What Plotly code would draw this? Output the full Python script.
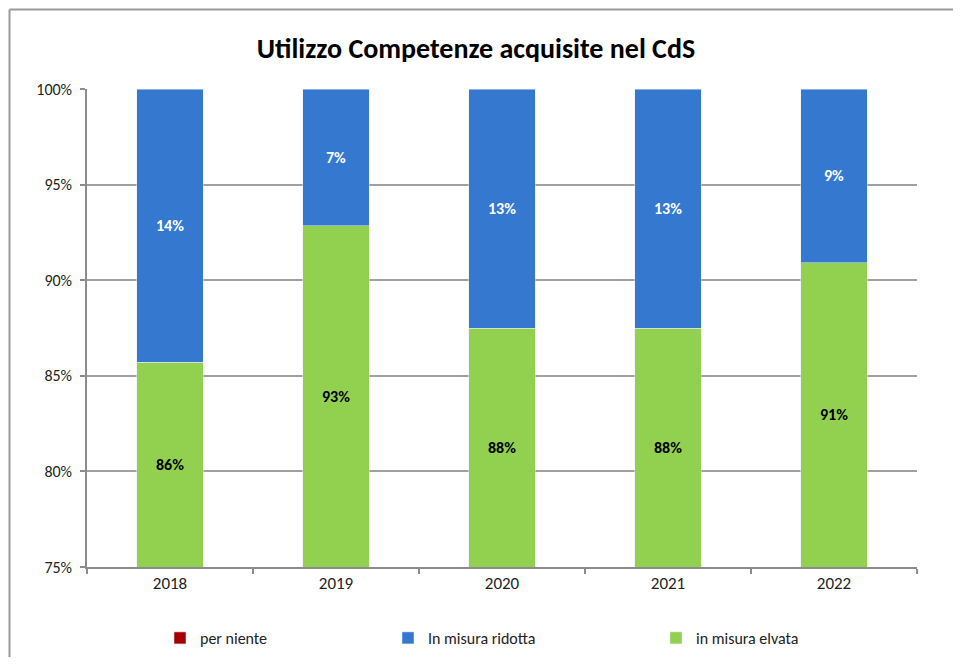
import plotly.graph_objects as go
import math

years = ["2018", "2019", "2020", "2021", "2022"]
per_niente = [0, 0, 0, 0, 0]
in_misura_elevata = [85.71, 92.86, 87.5, 87.5, 90.91]
in_misura_ridotta = [14.29, 7.14, 12.5, 12.5, 9.09]
y_ticks = [75, 80, 85, 90, 95, 100]

FONT = "Carlito, Calibri, Lato, sans-serif"
RED = "#A50000"
BLUE = "#3479CF"
GREEN = "#92D050"

# page body has an 8px margin on every side; size the figure so the page does not overflow
OFF = 8
W, H = 961 - 2 * OFF, 665 - 2 * OFF
PL, PR, PT, PB = 87 - OFF, 917 - OFF, 89 - OFF, 567 - OFF
PW, PH = PR - PL, PB - PT

def px_x(px):
    return (px - OFF - PL) / PW

def px_y(py):
    return (PB - (py - OFF)) / PH

def pct(v):
    return f"{int(math.floor(v + 0.5))}%"

fig = go.Figure()
fig.add_trace(go.Bar(x=years, y=per_niente, name="per niente", marker_color=RED,
                     legend="legend", showlegend=True))
fig.add_trace(go.Bar(x=years, y=in_misura_elevata, name="in misura elvata", marker_color=GREEN,
                     legend="legend3", showlegend=True))
fig.add_trace(go.Bar(x=years, y=in_misura_ridotta, name="In misura ridotta", marker_color=BLUE,
                     legend="legend2", showlegend=True))

ymin, ymax = y_ticks[0], y_ticks[-1]
annotations = []
for i, yr in enumerate(years):
    base = per_niente[i] + in_misura_elevata[i]
    annotations.append(dict(x=i, y=(ymin + base) / 2, text=pct(in_misura_elevata[i]),
                            showarrow=False, font=dict(family=FONT, size=16, color="black", weight="bold")))
    annotations.append(dict(x=i, y=(base + min(ymax, base + in_misura_ridotta[i])) / 2,
                            text=pct(in_misura_ridotta[i]), showarrow=False,
                            font=dict(family=FONT, size=16, color="white", weight="bold")))

leg_common = dict(orientation="h", yanchor="middle", xanchor="left", y=px_y(638),
                  font=dict(family=FONT, size=16, color="#222"), bgcolor="rgba(0,0,0,0)")

frame_line = dict(color="#9a9a9a", width=2)
fig.update_layout(
    width=W, height=H,
    margin=dict(l=PL, r=W - PR, t=PT, b=H - PB, autoexpand=False),
    paper_bgcolor="white", plot_bgcolor="white",
    showlegend=True,
    barmode="stack", bargap=0.6,
    font=dict(family=FONT, size=15, color="#222"),
    title=dict(text="<b>Utilizzo Competenze acquisite nel CdS</b>", x=(476 - OFF) / W, xanchor="center",
               xref="container", y=1 - (48 - OFF) / H, yref="container", yanchor="middle",
               font=dict(family=FONT, size=28, color="black")),
    annotations=annotations,
    legend=dict(x=px_x(160), **leg_common),
    legend2=dict(x=px_x(388), **leg_common),
    legend3=dict(x=px_x(656), **leg_common),
    shapes=[
        dict(type="line", xref="paper", yref="paper", x0=px_x(9.5), x1=px_x(961),
             y0=px_y(9.5), y1=px_y(9.5), line=frame_line, layer="below"),
        dict(type="line", xref="paper", yref="paper", x0=px_x(9.5), x1=px_x(9.5),
             y0=px_y(9.5), y1=px_y(665), line=frame_line, layer="below"),
    ],
)
fig.update_xaxes(type="category", categoryorder="array", categoryarray=years,
                 range=[-0.5, len(years) - 0.5], autorange=False,
                 showline=True, linecolor="#8c8c8c", linewidth=1.5, ticks="outside",
                 tickson="boundaries", ticklen=5, tickcolor="#8c8c8c", tickwidth=1.5,
                 tickangle=0,
                 tickfont=dict(family=FONT, size=17, color="#222"), showgrid=False)
fig.update_yaxes(range=[ymin, ymax], autorange=False, tickvals=y_ticks,
                 ticktext=[f"{v}%" for v in y_ticks],
                 showline=True, linecolor="#8c8c8c", linewidth=1.5, ticks="outside",
                 ticklen=5, tickcolor="#8c8c8c", tickwidth=1.5, ticklabelstandoff=5,
                 showgrid=True, gridcolor="#a0a0a0", gridwidth=1.5, zeroline=False,
                 tickfont=dict(family=FONT, size=16, color="#222"))

fig.write_html("out.html")
